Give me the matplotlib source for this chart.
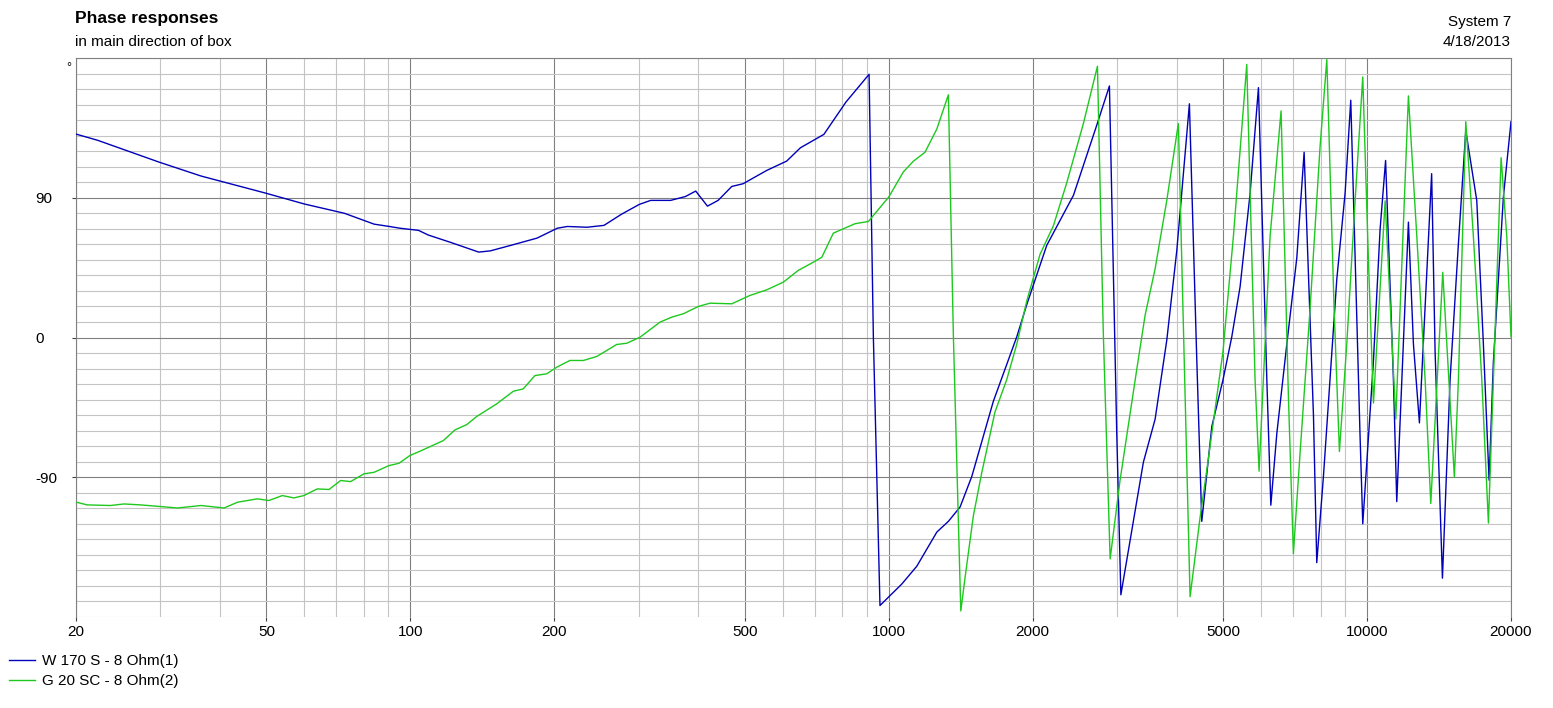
import matplotlib
matplotlib.use("Agg")
import matplotlib.pyplot as plt
from matplotlib.ticker import FixedLocator, MultipleLocator, NullFormatter

plt.rcParams['font.family'] = ['Liberation Sans', 'DejaVu Sans']
plt.rcParams['axes.unicode_minus'] = False

# W 170 S - 8 Ohm(1)  (frequency in Hz, phase in degrees)
w170_f = [20, 22.2, 29.8, 36.5, 49.8, 60, 72.8, 84, 90.4, 95, 104, 109, 121, 139, 147,
          162, 184, 203, 213, 234, 254, 276, 301, 318, 350, 376, 395, 418, 440, 470,
          496, 556, 612, 654, 732, 814, 910, 929, 959, 1065, 1145, 1261, 1333, 1410,
          1492, 1655, 1853, 1944, 2140, 2434, 2722, 2894, 2998, 3058, 3408, 3606, 3814,
          4002, 4253, 4406, 4514, 4738, 5000, 5216, 5429, 5696, 5930, 6174, 6294, 6478,
          6798, 7132, 7388, 7728, 7852, 8108, 8646, 8998, 9248, 9670, 9798, 10312,
          10650, 10936, 11356, 11540, 12206, 12504, 12870, 13650, 13878, 14378, 14916,
          15527, 16088, 16962, 17510, 18000, 18374, 19280, 20000]
w170_ph = [131, 127, 113, 104, 93, 86, 80, 73, 71.5, 70.4, 69, 66, 61.4, 55, 55.8,
           59.3, 64, 70.4, 71.5, 71, 72.2, 79.3, 85.7, 88.3, 88.3, 90.8, 94.3, 84.6, 88.3, 97.3,
           99, 107.6, 113.6, 122.2, 130.8, 151.6, 169.5, 0, -172.6, -158.8, -147.3, -125.3, -118.4, -109.2,
           -89.5, -41.1, 0.5, 21.2, 59.3, 91.6, 136.6, 162, -61.9, -165.7, -80.3, -52.6, -1.8,
           55.8, 150.5, -13.4, -118.4, -57.2, -27.2, 0.5, 32.8, 92.8, 160.9, -27.2, -108, -61.9,
           -4.2, 51.2, 119.3, -50.3, -145, -89.5, 37.4, 92.8, 152.8, -63, -120, -15.7,
           69.7, 114, -27, -105.7, 74.3, -4.2, -55, 105.5, -8.8, -155, -27.2,
           60.5, 133.2, 88.2, -4.2, -91.9, -15.7, 90.5, 139]

# G 20 SC - 8 Ohm(2)
g20_f = [20, 21.1, 23.6, 25.2, 27.3, 29.6, 32.6, 36.5, 40.8, 43.5, 47.9, 50.6, 54, 57.1,
         59.9, 63.9, 67.6, 71.5, 75, 80, 84, 90.2, 94.7, 99.8, 104.8, 117.2, 124, 131.2,
         137.6, 151.6, 164.2, 172.2, 182.2, 192.8, 202.4, 215.6, 230, 245.4, 270, 283.4,
         302.2, 332.6, 352, 372.2, 400, 423, 470, 513, 556, 602, 647, 696, 725, 766, 804,
         851, 907, 1000, 1073, 1126, 1191, 1261, 1333, 1365, 1415, 1445, 1503, 1565, 1668,
         1765, 1853, 1944, 2072, 2210, 2357, 2553, 2732, 2810, 2904, 3046, 3302, 3436, 3606,
         3814, 4033, 4186, 4267, 4477, 4660, 5000, 5256, 5472, 5606, 5834, 5948, 6072, 6271,
         6612, 6851, 7016, 7249, 7604, 7977, 8241, 8534, 8756, 9072, 9444, 9798, 10068,
         10315, 10912, 11486, 12206, 12710, 13228, 13594, 14400, 15228, 15527, 16088, 16688,
         17378, 17940, 18374, 19070, 19598, 20000]
g20_ph = [-106, -107.8, -108.2, -107.2, -107.8, -108.7, -109.8, -108.2, -109.8, -106.1, -103.9, -105, -101.8, -103.3,
          -101.8, -97.5, -97.9, -92.1, -92.8, -87.8, -86.8, -82.5, -81, -76, -73.2, -66.4, -59.5, -56.1,
          -50.9, -42.7, -34.6, -33.1, -24.5, -23.4, -19.1, -14.8, -14.8, -12.2, -4.5, -3.7,
          0.2, 9.9, 13.1, 15.3, 20, 22.1, 21.7, 27.1, 30.7, 35.6, 43.2, 48.5, 51.7, 67.2, 70,
          73.3, 74.7, 90.4, 106.6, 113.5, 119.3, 134.3, 156.3, 2.8, -176.1, -154.2, -115, -87.2, -48,
          -27.2, -4.2, 23.5, 53.5, 72, 99.7, 137.8, 174.7, 2.8, -142.6, -91.9, -20.3, 14.3, 44.3,
          88.2, 137.8, -61.9, -166.9, -116, -78, -8.8, 65, 134.3, 175.9, -27.2, -86.1, -27.2, 65,
          145.9, -38.8, -139.2, -73.4, 18.9, 122.8, 179, 18.9, -73.4, -4.2, 88.2, 167.8, 50,
          -42.2, 88, -52.6, 155.6, 65, -27.2, -106.9, 42, -90, -27.2, 139, 65,
          -27.2, -119.5, -27.2, 115.8, 65, 0.5]

labels = ['W 170 S - 8 Ohm(1)', 'G 20 SC - 8 Ohm(2)']
x_major = [20, 50, 100, 200, 500, 1000, 2000, 5000, 10000, 20000]
y_major = [-90, 0, 90]

W, H = 1553, 708
fig = plt.figure(figsize=(W / 100, H / 100), dpi=100)
ax = fig.add_axes([76 / W, 1 - 617 / H, (1511 - 76) / W, (617 - 58) / H])

l1, = ax.plot(w170_f, w170_ph, color='#0000b8', lw=1.0, zorder=3)
l2, = ax.plot(g20_f, g20_ph, color='#1ec81e', lw=1.0, zorder=3)

ax.set_xscale('log')
ax.set_xlim(20, 20000)
ax.set_ylim(-180, 180)

minors = [m * 10 ** d for d in range(1, 5) for m in range(2, 10) if 20 <= m * 10 ** d <= 20000]
ax.xaxis.set_major_locator(FixedLocator(x_major))
ax.xaxis.set_minor_locator(FixedLocator([v for v in minors if v not in x_major]))
ax.set_xticklabels([str(v) for v in x_major])
ax.xaxis.set_minor_formatter(NullFormatter())
ax.yaxis.set_major_locator(FixedLocator(y_major))
ax.yaxis.set_minor_locator(MultipleLocator(10))
ax.set_yticklabels([str(v) for v in y_major])

ax.set_axisbelow(True)
ax.grid(which='major', color='#808080', lw=0.8)
ax.grid(which='minor', color='#c4c4c4', lw=0.8)
ax.tick_params(which='minor', length=0)
ax.tick_params(which='major', length=3, width=0.8, color='#404040', labelsize=11)
ax.tick_params(axis='x', pad=3)
ax.tick_params(axis='y', pad=26)
for t in ax.get_yticklabels():
    t.set_horizontalalignment('left')

for s in ['top', 'left', 'right']:
    ax.spines[s].set_color('#808080')
    ax.spines[s].set_linewidth(0.8)
ax.spines['bottom'].set_visible(False)

fig.text(75 / W, 1 - 23 / H, 'Phase responses', fontsize=12.5, fontweight='bold', va='baseline')
fig.text(75 / W, 1 - 46 / H, 'in main direction of box', fontsize=11, va='baseline')
fig.text(1511 / W, 1 - 26 / H, 'System 7', fontsize=11, ha='right', va='baseline')
fig.text(1511 / W, 1 - 46 / H, '4/18/2013', fontsize=11, ha='right', va='baseline')
fig.text(66 / W, 1 - 71 / H, '°', fontsize=9, va='baseline')

fig.legend([l1, l2], labels, loc='upper left', bbox_to_anchor=(9 / W, 1 - 654 / H),
           frameon=False, fontsize=11, borderpad=0, borderaxespad=0,
           handlelength=1.7, handletextpad=0.45, labelspacing=0.4)

fig.savefig('out.png', dpi=100)
